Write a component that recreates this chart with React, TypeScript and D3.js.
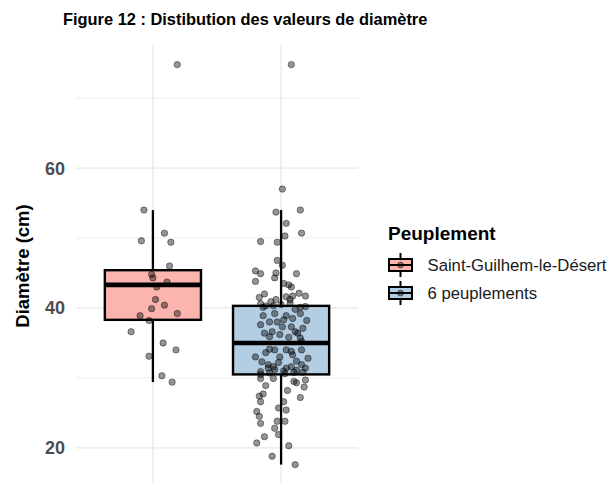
import React from "react";
import * as d3 from "d3";

// ---------- data ----------
const categories = ["Saint-Guilhem-le-Désert", "6 peuplements"];
const fills = ["#FBB4AE", "#B3CDE3"];

// box statistics (cm)
const boxLower = [29.4, 17.6];
const boxQ1 = [38.3, 30.5];
const boxMedian = [43.3, 35.0];
const boxQ3 = [45.4, 40.3];
const boxUpper = [54.0, 54.0];

// jittered observations: value (cm) and horizontal jitter (fraction of category step)
const valuesSG = [74.8, 54.0, 50.7, 49.6, 49.4, 46.0, 44.8, 44.3, 43.7, 43.0, 41.2, 39.9, 40.4, 38.9, 39.2, 38.2, 36.6, 35.0, 34.0, 33.1, 30.3, 29.4];
const jitterSG = [0.19, -0.07, 0.09, -0.09, 0.14, 0.13, -0.01, 0.0, 0.11, 0.03, 0.02, -0.01, 0.09, -0.1, 0.19, -0.03, -0.17, 0.08, 0.18, -0.03, 0.07, 0.15];

const values6P = [
  74.8, 57.0, 53.7, 54.0, 52.1, 50.7, 50.3, 49.5, 49.4, 46.8, 46.1, 45.3, 44.9, 45.0, 44.9, 44.3, 43.8, 43.5, 43.3, 43.0,
  42.0, 41.5, 42.1, 41.7, 41.6, 41.7, 41.2, 41.2, 40.9,
  40.6, 40.1, 40.3, 40.7, 40.1, 38.9, 38.9, 39.2, 39.2, 38.5, 38.3, 38.2, 37.6, 38.0, 37.3, 37.3, 37.1,
  36.4, 36.6, 36.2, 36.4, 35.9, 35.8, 35.7, 36.6, 35.2,
  34.0, 33.6, 34.1, 34.0, 34.0, 33.0, 33.3, 33.0, 32.8, 32.3, 31.9, 31.6, 31.6, 31.9, 31.4, 31.1, 30.9, 31.0, 31.4, 33.8, 31.4, 31.2,
  30.5, 30.8, 30.8, 30.6,
  29.9, 29.9, 29.5, 29.3, 29.7, 28.9, 28.2, 28.7, 27.7, 27.4, 27.2, 26.6, 26.6, 25.7, 25.4, 25.2, 24.5,
  23.5, 23.8, 23.8, 22.8, 21.6, 21.9, 20.7, 20.3, 18.8, 17.6,
  30.7, 32.2, 32.4, 40.3, 40.5, 39.8, 40.2, 38.0,
];
const jitter6P = [
  0.08, 0.01, -0.04, 0.15, 0.04, 0.16, 0.03, -0.16, -0.03, -0.03, 0.01, -0.2, -0.16, -0.04, 0.12, -0.05, -0.2, 0.02, 0.06, 0.08,
  -0.13, -0.17, 0.14, 0.19, 0.04, 0.09, -0.04, 0.07, -0.08,
  -0.16, -0.14, -0.06, 0.07, 0.15, -0.14, 0.04, 0.15, -0.05, 0.09, 0.02, 0.2, -0.16, -0.03, 0.01, 0.08, 0.17,
  -0.13, -0.07, -0.01, 0.13, -0.09, 0.06, 0.15, 0.11, 0.16,
  -0.05, -0.12, -0.09, 0.04, 0.16, -0.2, 0.09, -0.01, 0.21, -0.15, -0.1, -0.06, 0.08, 0.16, 0.19, 0.12, -0.16, 0.02, -0.1, 0.08, 0.04, -0.05,
  -0.16, 0.1, 0.17, 0.03,
  -0.16, -0.06, 0.1, 0.12, 0.19, -0.12, 0.05, 0.18, -0.14, -0.17, 0.15, -0.16, 0.02, -0.02, 0.04, -0.19, -0.17,
  -0.16, -0.03, 0.03, -0.05, -0.13, -0.02, -0.19, 0.06, -0.07, 0.11,
  -0.09, -0.02, 0.12, -0.12, 0.0, 0.11, 0.19, -0.09,
];

const yTicks = [20, 40, 60];
const yMinor = [30, 50, 70];

const titleText = "Figure 12 : Distibution des valeurs de diamètre";
const yTitle = "Diamètre (cm)";
const legendTitle = "Peuplement";

// ---------- layout ----------
const W = 616;
const H = 483;
const panel = { left: 76, right: 358, top: 45, bottom: 487 };
const FONT = "'Liberation Sans', Arial, Helvetica, sans-serif";

export default function App() {
  const x = d3
    .scalePoint<string>()
    .domain(categories)
    .range([panel.left, panel.right])
    .padding(0.6);
  const step = x.step();
  const y = d3.scaleLinear().domain([14.4, 77.6]).range([panel.bottom, panel.top]);
  const boxW = step * 0.75;

  const groups = [
    { values: valuesSG, jitter: jitterSG },
    { values: values6P, jitter: jitter6P },
  ];

  const legendX = 389;
  const legendKeyW = 23;
  const legendRows = [265, 293];

  return (
    <svg
      width={W}
      height={H}
      style={{ position: "absolute", left: 0, top: 0, background: "#fff" }}
      fontFamily={FONT}
    >
      <rect x={0} y={0} width={W} height={H} fill="#fff" />
      {/* grid */}
      {yMinor.map((t) => (
        <line key={"mi" + t} x1={panel.left} x2={panel.right} y1={y(t)} y2={y(t)} stroke="#ededed" strokeWidth={1} />
      ))}
      {yTicks.map((t) => (
        <line key={"ma" + t} x1={panel.left} x2={panel.right} y1={y(t)} y2={y(t)} stroke="#e8e8e8" strokeWidth={1.3} />
      ))}
      {categories.map((c) => (
        <line key={"v" + c} x1={x(c)} x2={x(c)} y1={panel.top} y2={panel.bottom} stroke="#e8e8e8" strokeWidth={1.3} />
      ))}

      {/* y tick labels */}
      {yTicks.map((t) => (
        <text
          key={"yl" + t}
          x={65}
          y={y(t)}
          dy="0.36em"
          textAnchor="end"
          fontSize={18}
          fontWeight="bold"
          fill="#4d4d4d"
        >
          {t}
        </text>
      ))}

      {/* y title */}
      <text
        transform={`translate(${29},${(panel.top + panel.bottom) / 2}) rotate(-90)`}
        textAnchor="middle"
        fontSize={18.5}
        fontWeight="bold"
        fill="#000"
      >
        {yTitle}
      </text>

      {/* title */}
      <text x={63} y={25} fontSize={16.4} fontWeight="bold" fill="#000">
        {titleText}
      </text>

      {/* boxplots */}
      {categories.map((c, i) => {
        const cx = x(c) as number;
        return (
          <g key={"box" + c}>
            <line x1={cx} x2={cx} y1={y(boxQ3[i])} y2={y(boxUpper[i])} stroke="#000" strokeWidth={2.3} />
            <line x1={cx} x2={cx} y1={y(boxQ1[i])} y2={y(boxLower[i])} stroke="#000" strokeWidth={2.3} />
            <rect
              x={cx - boxW / 2}
              y={y(boxQ3[i])}
              width={boxW}
              height={y(boxQ1[i]) - y(boxQ3[i])}
              fill={fills[i]}
              stroke="#000"
              strokeWidth={2.4}
            />
            <line
              x1={cx - boxW / 2}
              x2={cx + boxW / 2}
              y1={y(boxMedian[i])}
              y2={y(boxMedian[i])}
              stroke="#000"
              strokeWidth={4.6}
            />
          </g>
        );
      })}

      {/* jittered points */}
      {groups.map((g, i) =>
        g.values.map((v, j) => (
          <circle
            key={"p" + i + "-" + j}
            cx={(x(categories[i]) as number) + g.jitter[j] * step}
            cy={y(v)}
            r={3.2}
            fill="#000"
            fillOpacity={0.42}
            stroke="#000"
            strokeOpacity={0.45}
            strokeWidth={0.9}
          />
        ))
      )}

      {/* legend */}
      <text x={388} y={240} fontSize={19} fontWeight="bold" fill="#000">
        {legendTitle}
      </text>
      {categories.map((c, i) => {
        const cy = legendRows[i];
        const cx = legendX + legendKeyW / 2;
        return (
          <g key={"leg" + c}>
            <line x1={cx} x2={cx} y1={cy - 12} y2={cy + 12} stroke="#000" strokeWidth={2} />
            <rect x={legendX} y={cy - 6} width={legendKeyW} height={12} fill={fills[i]} stroke="#000" strokeWidth={2} />
            <line x1={legendX} x2={legendX + legendKeyW} y1={cy} y2={cy} stroke="#000" strokeWidth={2} />
            <circle cx={cx} cy={cy} r={3} fill="#000" fillOpacity={0.42} stroke="#000" strokeOpacity={0.45} strokeWidth={0.9} />
            <text x={427.5} y={cy} dy="0.36em" fontSize={16.7} fill="#1a1a1a">
              {c}
            </text>
          </g>
        );
      })}
    </svg>
  );
}
